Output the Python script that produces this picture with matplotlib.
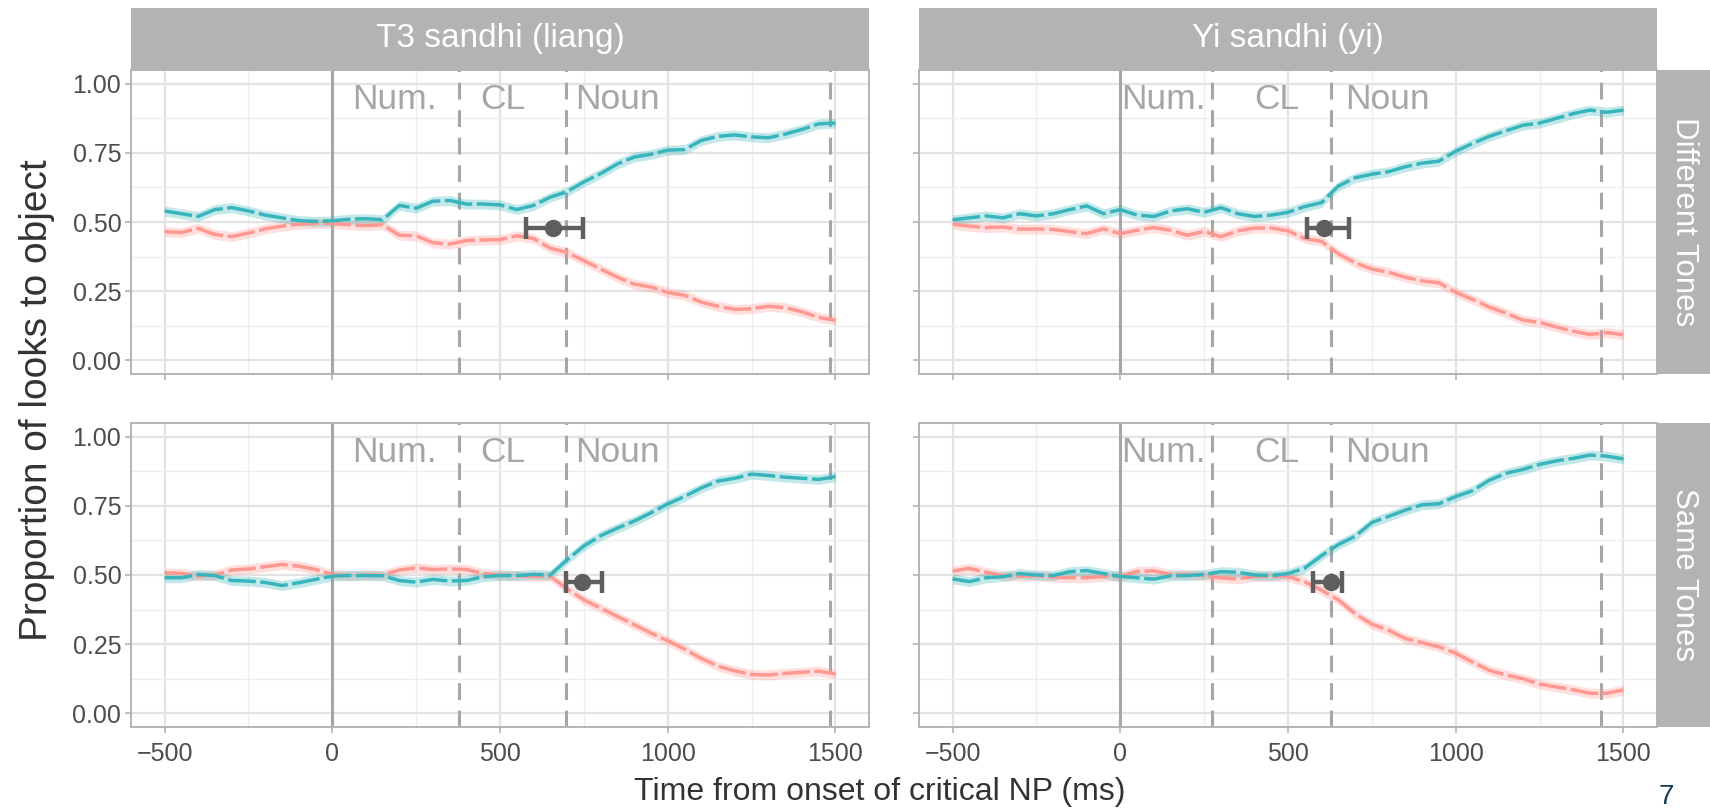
import numpy as np
import matplotlib
matplotlib.use("Agg")
from matplotlib import pyplot as plt

plt.rcParams['font.family'] = ['Liberation Sans', 'DejaVu Sans']

# time bins (ms from onset of the critical NP)
time_ms = list(range(-500, 1501, 50))

columns = ["T3 sandhi (liang)", "Yi sandhi (yi)"]
rows = ["Different Tones", "Same Tones"]

# proportion of looks
t3_diff_teal = [0.54, 0.53, 0.52, 0.545, 0.552, 0.54, 0.525, 0.515, 0.505, 0.502, 0.504,
                0.51, 0.512, 0.508, 0.56, 0.55, 0.575, 0.578, 0.565, 0.565, 0.562,
                0.545, 0.56, 0.59, 0.61, 0.645, 0.675, 0.71, 0.735, 0.745, 0.76,
                0.762, 0.795, 0.81, 0.815, 0.808, 0.805, 0.818, 0.835, 0.855, 0.858]
t3_diff_red = [0.465, 0.462, 0.477, 0.455, 0.447, 0.46, 0.475, 0.485, 0.492, 0.495, 0.495,
               0.49, 0.487, 0.49, 0.452, 0.45, 0.425, 0.42, 0.433, 0.435, 0.436,
               0.45, 0.44, 0.405, 0.39, 0.36, 0.33, 0.30, 0.275, 0.265, 0.245,
               0.235, 0.21, 0.195, 0.184, 0.186, 0.195, 0.19, 0.175, 0.155, 0.144]
yi_diff_teal = [0.508, 0.515, 0.522, 0.515, 0.53, 0.522, 0.53, 0.545, 0.558, 0.53, 0.545,
                0.525, 0.52, 0.54, 0.548, 0.535, 0.552, 0.53, 0.52, 0.525, 0.535,
                0.556, 0.57, 0.63, 0.66, 0.673, 0.682, 0.70, 0.713, 0.72, 0.756,
                0.784, 0.81, 0.83, 0.85, 0.858, 0.875, 0.892, 0.905, 0.897, 0.905]
yi_diff_red = [0.492, 0.485, 0.48, 0.482, 0.474, 0.475, 0.473, 0.465, 0.458, 0.475, 0.458,
               0.47, 0.48, 0.47, 0.452, 0.466, 0.447, 0.468, 0.478, 0.478, 0.468,
               0.44, 0.43, 0.385, 0.352, 0.33, 0.318, 0.30, 0.287, 0.28, 0.246,
               0.22, 0.192, 0.17, 0.145, 0.137, 0.12, 0.105, 0.093, 0.1, 0.092]
t3_same_teal = [0.49, 0.49, 0.502, 0.498, 0.48, 0.478, 0.473, 0.462, 0.472, 0.484, 0.496,
                0.498, 0.498, 0.497, 0.48, 0.474, 0.484, 0.478, 0.48, 0.494, 0.498,
                0.498, 0.502, 0.50, 0.555, 0.605, 0.642, 0.67, 0.695, 0.725, 0.757,
                0.784, 0.815, 0.84, 0.85, 0.865, 0.86, 0.854, 0.85, 0.846, 0.856]
t3_same_red = [0.508, 0.506, 0.496, 0.50, 0.518, 0.522, 0.53, 0.538, 0.532, 0.52, 0.502,
               0.498, 0.50, 0.50, 0.518, 0.526, 0.52, 0.522, 0.52, 0.505, 0.50,
               0.497, 0.495, 0.495, 0.45, 0.41, 0.38, 0.35, 0.32, 0.29, 0.262,
               0.232, 0.198, 0.17, 0.153, 0.14, 0.138, 0.144, 0.148, 0.152, 0.142]
yi_same_teal = [0.486, 0.476, 0.49, 0.494, 0.505, 0.5, 0.498, 0.512, 0.516, 0.505, 0.495,
                0.49, 0.485, 0.497, 0.498, 0.502, 0.512, 0.51, 0.5, 0.498, 0.505,
                0.525, 0.57, 0.61, 0.64, 0.69, 0.712, 0.735, 0.754, 0.758, 0.784,
                0.805, 0.843, 0.868, 0.882, 0.9, 0.913, 0.922, 0.934, 0.93, 0.92]
yi_same_red = [0.514, 0.524, 0.51, 0.498, 0.496, 0.497, 0.492, 0.49, 0.49, 0.495, 0.495,
               0.513, 0.515, 0.502, 0.502, 0.497, 0.49, 0.486, 0.495, 0.495, 0.495,
               0.475, 0.445, 0.41, 0.36, 0.322, 0.30, 0.27, 0.255, 0.24, 0.217,
               0.185, 0.155, 0.138, 0.125, 0.105, 0.095, 0.085, 0.072, 0.072, 0.084]
ribbon_se = 0.018

# word boundaries per column (T3, Yi)
cl_onset = [378, 272]
noun_onset = [697, 628]
np_offset = [1485, 1432]
word_labels = ["Num.", "CL", "Noun"]
word_label_x = [[58, 442, 724], [2, 400, 669]]
word_label_y = 0.945

# divergence point: mean, lower, upper, y  (rows x cols)
div_mean = [[657, 607], [743, 629]]
div_low = [[577, 558], [696, 576]]
div_high = [[746, 682], [803, 662]]
div_y = [[0.477, 0.477], [0.474, 0.474]]

panel_teal = [[t3_diff_teal, yi_diff_teal], [t3_same_teal, yi_same_teal]]
panel_red = [[t3_diff_red, yi_diff_red], [t3_same_red, yi_same_red]]

TEAL = '#38B5BC'
RED = '#FF9891'
GUIDE = '#A6A6A6'
W, H = 1710, 810

fig = plt.figure(figsize=(17.1, 8.1), dpi=100)

col_left = [131, 919]
row_top = [70, 423]
ax_w, ax_h = 738, 304


def draw_panel(ax, r, c):
    t = np.array(time_ms)
    red = np.array(panel_red[r][c])
    teal = np.array(panel_teal[r][c])
    for y, col in [(red, RED), (teal, TEAL)]:
        ax.fill_between(t, y - ribbon_se, y + ribbon_se, color=col, alpha=0.3, lw=0, zorder=3)
        ax.plot(t, y, color=col, lw=2.5, ls=(0, (8, 1.3)), zorder=4, solid_capstyle='butt')

    ax.axvline(0, color=GUIDE, lw=2.2, zorder=2)
    for xv in [cl_onset[c], noun_onset[c], np_offset[c]]:
        ax.axvline(xv, color=GUIDE, lw=2.2, ls=(0, (5.5, 3.5)), zorder=2)
    for lab, xv in zip(word_labels, word_label_x[c]):
        ax.text(xv, word_label_y, lab, color=GUIDE, fontsize=25.5, ha='left', va='center', zorder=5)

    # divergence point estimate
    ax.errorbar(div_mean[r][c], div_y[r][c],
                xerr=[[div_mean[r][c] - div_low[r][c]], [div_high[r][c] - div_mean[r][c]]],
                fmt='o', color='#5E5E5E', ms=11.5, elinewidth=3.2, capsize=8, capthick=3.2, zorder=6)

    ax.set_xlim(-600, 1600)
    ax.set_ylim(-0.05, 1.05)
    ax.set_xticks([-500, 0, 500, 1000, 1500])
    ax.set_xticks([-250, 250, 750, 1250], minor=True)
    ax.set_yticks([0, 0.25, 0.5, 0.75, 1.0])
    ax.set_yticks([0.125, 0.375, 0.625, 0.875], minor=True)
    ax.grid(which='major', color='#E3E3E3', lw=1.6, zorder=0)
    ax.grid(which='minor', color='#EEEEEE', lw=1.0, zorder=0)
    ax.set_axisbelow(True)
    for s in ax.spines.values():
        s.set_color('#B3B3B3')
        s.set_linewidth(1.4)
    ax.tick_params(which='major', length=4, width=1.2, color='#B3B3B3',
                   labelsize=18, labelcolor='#4D4D4D', pad=3)
    ax.tick_params(which='minor', length=0)
    if c == 0:
        ax.set_yticklabels(["0.00", "0.25", "0.50", "0.75", "1.00"])
    else:
        ax.set_yticklabels([])
    if r == 1:
        ax.set_xticklabels(["\u2212500", "0", "500", "1000", "1500"])
        ax.tick_params(axis='x', pad=7)
    else:
        ax.tick_params(axis='x', labelbottom=False)


def strip(rect, text, size, rotation=0):
    sax = fig.add_axes(rect)
    sax.set_facecolor('#B3B3B3')
    sax.set_xticks([])
    sax.set_yticks([])
    for s in sax.spines.values():
        s.set_visible(False)
    sax.text(0.5, 0.5, text, color='white', fontsize=size, rotation=rotation,
             ha='center', va='center', transform=sax.transAxes)


for r in range(2):
    for c in range(2):
        rect = [col_left[c] / W, 1 - (row_top[r] + ax_h) / H, ax_w / W, ax_h / H]
        ax = fig.add_axes(rect)
        draw_panel(ax, r, c)

for c in range(2):
    strip([col_left[c] / W, 1 - 70 / H, ax_w / W, 62 / H], columns[c], 24)
for r in range(2):
    strip([(col_left[1] + ax_w) / W, 1 - (row_top[r] + ax_h) / H, (W - col_left[1] - ax_w) / W, ax_h / H],
          rows[r], 22.5, rotation=-90)

fig.text(880 / W, 1 - 792 / H, "Time from onset of critical NP (ms)", fontsize=23,
         color='#333333', ha='center', va='center')
fig.text(37 / W, 1 - 400 / H, "Proportion of looks to object", fontsize=28,
         color='#333333', ha='center', va='center', rotation=90)
fig.text(1666 / W, 1 - 797 / H, "7", fontsize=20, color='#163E52', ha='center', va='center')

fig.savefig('out.png', dpi=100)
